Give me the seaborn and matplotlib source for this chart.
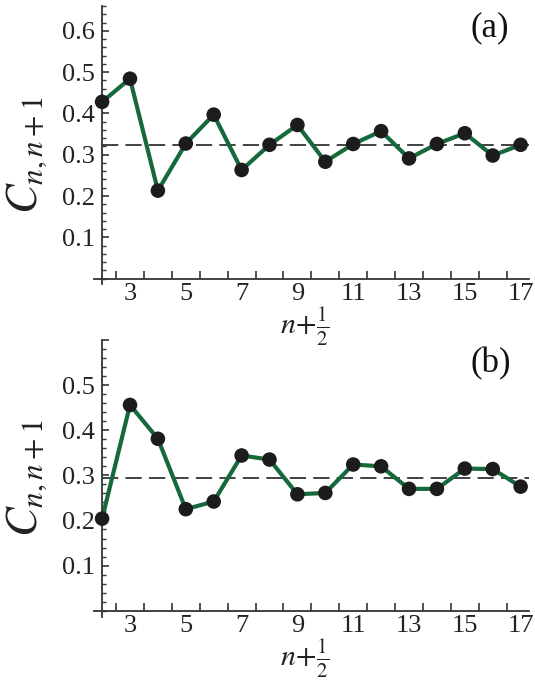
import numpy as np
import pandas as pd
import matplotlib
matplotlib.use("Agg")
import matplotlib.pyplot as plt
import seaborn as sns
from matplotlib.ticker import MultipleLocator, FixedLocator

# ---- data ----
n_half = [2, 3, 4, 5, 6, 7, 8, 9, 10, 11, 12, 13, 14, 15, 16, 17]
corr_a = [0.428, 0.484, 0.213, 0.327, 0.397, 0.263, 0.324, 0.372, 0.283,
          0.326, 0.357, 0.291, 0.326, 0.352, 0.298, 0.324]
corr_b = [0.204, 0.456, 0.381, 0.225, 0.242, 0.344, 0.335, 0.258, 0.261,
          0.324, 0.320, 0.270, 0.270, 0.315, 0.314, 0.275]
mean_a = 0.323
mean_b = 0.295
panel_labels = ["(a)", "(b)"]
x_tick_labels = [3, 5, 7, 9, 11, 13, 15, 17]
y_ticks_a = [0.1, 0.2, 0.3, 0.4, 0.5, 0.6]
y_ticks_b = [0.1, 0.2, 0.3, 0.4, 0.5]

sns.set_theme(style="white")
plt.rcParams["font.family"] = ["Liberation Serif", "DejaVu Serif"]
plt.rcParams["mathtext.fontset"] = "stix"

fig = plt.figure(figsize=(5.35, 6.81), dpi=100)
W, H = 535, 681
ax_a = fig.add_axes([94 / W, 1 - 284 / H, 435 / W, 278 / H])
ax_b = fig.add_axes([94 / W, 1 - 617 / H, 435 / W, 277 / H])

green = "#15693a"
axcol = "#333333"
txtcol = "#222222"

specs = [
    (ax_a, corr_a, mean_a, (-0.013, 0.66), y_ticks_a, panel_labels[0],
     0.464, -0.155, (0.910, 0.921)),
    (ax_b, corr_b, mean_b, (-0.014, 0.60), y_ticks_b, panel_labels[1],
     0.500, -0.150, (0.913, 0.914)),
]

for ax, vals, mean, ylim, yt, lab, ylab_y, xlab_y, labpos in specs:
    ax.patch.set_alpha(0)
    df = pd.DataFrame({"x": n_half, "c": vals})
    ax.set_xlim(1.71, 17.3)
    ax.set_ylim(*ylim)
    ax.plot([2, 17.3], [mean, mean], color="#333333", lw=1.3,
            dashes=(9, 4), zorder=1)
    sns.lineplot(data=df, x="x", y="c", ax=ax, color=green, lw=3.0,
                 zorder=2, legend=False)
    sns.scatterplot(data=df, x="x", y="c", ax=ax, color="#1c1c1c", s=110,
                    edgecolor="none", zorder=3, legend=False, clip_on=False)

    for side in ["top", "right"]:
        ax.spines[side].set_visible(False)
    ax.spines["left"].set_position(("data", 2))
    ax.spines["bottom"].set_position(("data", 0))
    for side in ["left", "bottom"]:
        ax.spines[side].set_color(axcol)
        ax.spines[side].set_linewidth(1.3)

    ax.xaxis.set_major_locator(FixedLocator(x_tick_labels))
    ax.set_xticklabels([str(v) for v in x_tick_labels])
    ax.xaxis.set_minor_locator(FixedLocator(np.arange(2.5, 17.0, 1.0)))
    ax.tick_params(axis="x", which="major", length=0, pad=3,
                   labelsize=19, labelcolor=txtcol)
    ax.tick_params(axis="x", which="minor", direction="in", length=6,
                   width=1.2, color=axcol, bottom=True)

    ax.yaxis.set_major_locator(FixedLocator(yt + ([0.6] if lab == "(b)" else [])))
    ax.set_yticklabels([f"{v:.1f}" if v in yt else "" for v in ax.get_yticks()])
    ax.yaxis.set_minor_locator(MultipleLocator(0.02))
    ax.tick_params(axis="y", which="major", direction="in", length=5,
                   width=1.2, color=axcol, pad=5, labelsize=19,
                   labelcolor=txtcol, left=True)
    ax.tick_params(axis="y", which="minor", direction="in", length=3,
                   width=1.0, color=axcol, left=True)

    ax.set_xlabel("")
    ax.set_ylabel("")
    ax.text(-0.154, ylab_y, r"$C_{n,n+1}$", transform=ax.transAxes,
            fontsize=32, color=txtcol, rotation=90, ha="center", va="center")
    ax.text(0.485, xlab_y, r"$n\!+\!\frac{1}{2}$", transform=ax.transAxes,
            fontsize=21.5, color=txtcol, ha="center", va="center")
    ax.text(labpos[0], labpos[1], lab, transform=ax.transAxes, fontsize=25,
            ha="center", va="center", color="#111111")
    ax.grid(False)

fig.savefig("out.png", dpi=100)
